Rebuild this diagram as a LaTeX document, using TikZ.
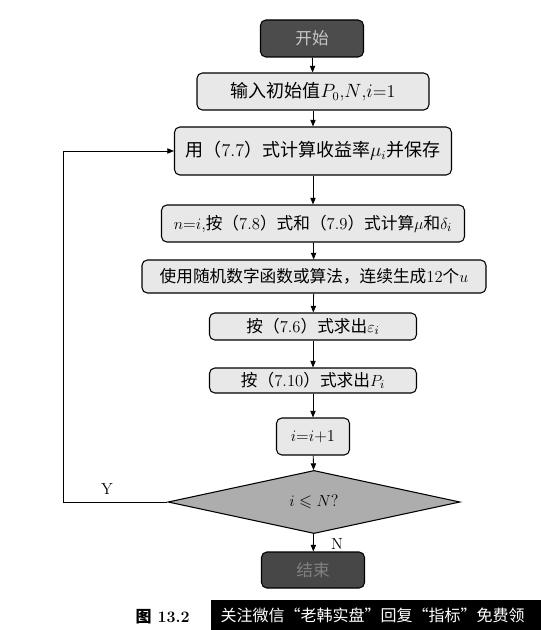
\documentclass[tikz,border=0pt]{standalone}
\usepackage{amsmath,amssymb}
\usepackage{fontspec}
\newfontfamily\cjk{Noto Sans CJK SC}
\usetikzlibrary{positioning,arrows.meta,shapes.geometric}

\begin{document}
\begin{tikzpicture}[
x=0.75pt, y=-0.75pt,
box/.style={draw, line width=0.8pt, rounded corners=4pt, fill=black!9, align=center, inner sep=0pt, font=\fontsize{12.5}{15}\selectfont},
term/.style={box, fill=black!70, text=black!22, minimum width=77.25pt, minimum height=27.75pt},
decide/.style={draw, line width=0.8pt, diamond, fill=black!32, inner sep=0pt, minimum width=219pt, minimum height=45pt, font=\fontsize{12.5}{15}\selectfont},
arr/.style={-{Triangle[length=5pt,width=4pt]}, line width=0.6pt},
lab/.style={font=\fontsize{12}{14}\selectfont}
]
\useasboundingbox (0,0) rectangle (541,630);
\node[term] (start) at (312,38.5) {\cjk 开始};
\node[box, minimum width=174pt, minimum height=27.75pt, font=\fontsize{13.5}{16}\selectfont] (input) at (313,91.5) {{\cjk 输入初始值}$P_0$,$N$,$i$=1};
\node[box, minimum width=207.75pt, minimum height=36pt, font=\fontsize{13.5}{16}\selectfont] (calc) at (313,151) {{\cjk 用（}7.7{\cjk ）式计算收益率}$\mu_i${\cjk 并保存}};
\node[box, minimum width=227.25pt, minimum height=27.75pt] (stats) at (313,223.5) {$n$=$i$,{\cjk 按（}7.8{\cjk ）式和（}7.9{\cjk ）式计算}$\mu${\cjk 和}$\delta_i$};
\node[box, minimum width=258pt, minimum height=24.75pt] (rand) at (314,276.5) {{\cjk 使用随机数字函数或算法，连续生成}12{\cjk 个}$u$};
\node[box, minimum width=155.25pt, minimum height=20.25pt] (eps) at (313,326.5) {{\cjk 按（}7.6{\cjk ）式求出}$\varepsilon_i$};
\node[box, minimum width=155.25pt, minimum height=18.75pt] (price) at (313,380.5) {{\cjk 按（}7.10{\cjk ）式求出}$P_i$};
\node[box, minimum width=54.75pt, minimum height=27.75pt] (incr) at (313,436.5) {$i$=$i$+1};
\node[decide] (check) at (314,502) {$i\leqslant N$?};
\node[term, fill=black!72, text=black!50, minimum height=27pt] (stop) at (313,570) {\cjk 结束};
\coordinate (back) at (63,0);
\node[lab] (ylab) at (107,489) {Y};
\node[lab] (nlab) at (337,544) {N};
\draw[arr] (start) -- (input);
\draw[arr] (input) -- (calc);
\draw[arr] (calc) -- (stats);
\draw[arr] (stats) -- (rand);
\draw[arr] (rand) -- (eps);
\draw[arr] (eps) -- (price);
\draw[arr] (price) -- (incr);
\draw[arr] (incr) -- (check);
\draw[arr] (check) -- (stop);
\draw[arr] (check.west) -- (check.west -| back) |- (calc.west);
% caption and banner
\node[anchor=west, font=\bfseries\fontsize{12}{14}\selectfont] (fig) at (131,617) {{\cjk 图} 13.2};
\fill[black] (211,600) rectangle (541,630);
\node[anchor=west, text=white, font=\fontsize{12}{14}\selectfont] (ad) at (216,615) {\cjk 关注微信“老韩实盘”回复“指标”免费领};
\end{tikzpicture}
\end{document}
